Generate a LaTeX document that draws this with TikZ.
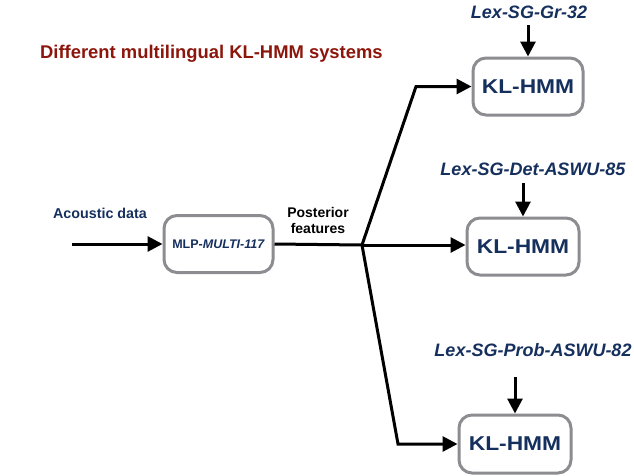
\documentclass[tikz,border=0pt]{standalone}
\usepackage{fontspec}
\setmainfont{Liberation Sans}
\newfontfamily\klfont[FakeStretch=1.14]{Liberation Sans}
\usetikzlibrary{arrows.meta}
\definecolor{navy}{RGB}{22,48,94}
\definecolor{titlered}{RGB}{140,22,12}
\definecolor{boxgray}{RGB}{140,140,145}
\tikzset{
  sysbox/.style={draw=boxgray, line width=3pt, rounded corners=13pt, fill=white,
    text=navy, inner sep=0pt, font=\klfont\bfseries\fontsize{20}{22}\selectfont},
  mlpbox/.style={draw=boxgray, line width=3pt, rounded corners=13pt, fill=white,
    text=navy, inner sep=0pt, font=\bfseries\fontsize{12.5}{14}\selectfont},
  lexlabel/.style={text=navy, inner sep=0pt, font=\bfseries\itshape\fontsize{18}{20}\selectfont},
  conn/.style={line width=3pt, line join=miter},
  arr/.style={conn, -{Triangle[length=15pt,width=15pt]}},
}
\begin{document}
\begin{tikzpicture}[x=1pt,y=-1pt]
\useasboundingbox (0,0) rectangle (634,475);
% title
\node[anchor=west, text=titlered, inner sep=0pt, font=\bfseries\fontsize{18.4}{21}\selectfont] (title) at (40,54) {Different multilingual KL-HMM systems};
% boxes
\node[mlpbox, minimum width=109pt, minimum height=57pt] (mlp) at (218.5,244) {MLP-\textit{MULTI-117}};
\node[sysbox, minimum width=110pt, minimum height=57pt] (k1) at (528,86.5) {KL-HMM};
\node[sysbox, minimum width=112pt, minimum height=57pt] (k2) at (523,246.5) {KL-HMM};
\node[sysbox, minimum width=112pt, minimum height=58pt] (k3) at (515,444) {KL-HMM};
% labels
\node[text=navy, inner sep=0pt, font=\bfseries\fontsize{14.3}{16}\selectfont] (ac) at (100,213) {Acoustic data};
\node[align=center, inner sep=0pt, font=\bfseries\fontsize{14}{16}\selectfont] (post) at (318,220) {Posterior\\features};
\node[lexlabel] (l1) at (529,12) {Lex-SG-Gr-32};
\node[lexlabel] (l2) at (533,169) {Lex-SG-Det-ASWU-85};
\node[lexlabel] (l3) at (533,350) {Lex-SG-Prob-ASWU-82};
% coordinates
\coordinate (in) at (72,244);
\coordinate (br) at (362,245);
\coordinate (c1) at (416,86.5);
\coordinate (c3) at (398,444);
\coordinate (a1) at (528,25);
\coordinate (a2) at (523,183);
\coordinate (a3) at (515,377);
% connectors
\draw[arr] (in) -- (mlp.west);
\draw[conn] (mlp.east) -- (br);
\draw[arr] (br) -- (c1) -- (k1.west);
\draw[arr] (br) -- (br -| k2.west);
\draw[arr] (br) -- (c3) -- (k3.west);
\draw[arr] (a1) -- (k1.north);
\draw[arr] (a2) -- (k2.north);
\draw[arr] (a3) -- (k3.north);
\end{tikzpicture}
\end{document}
